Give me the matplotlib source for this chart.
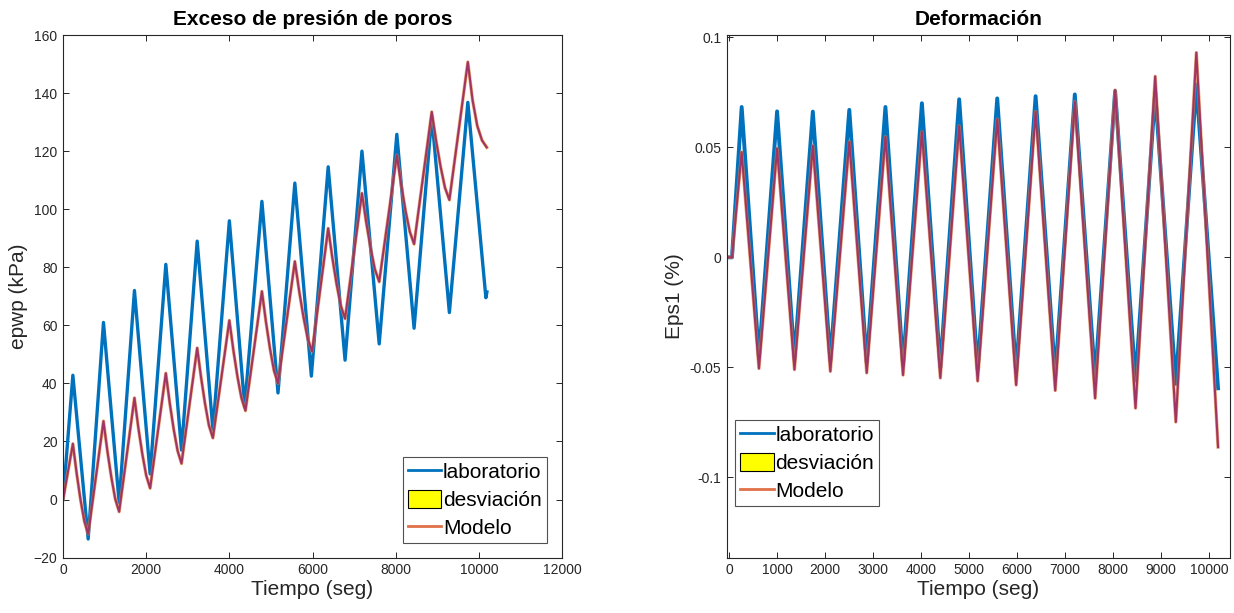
"""Exceso de presión de poros / Deformación: laboratorio vs modelo."""

import matplotlib

matplotlib.use("Agg")
import matplotlib.pyplot as plt
import numpy as np
from matplotlib.patches import Patch
from matplotlib.lines import Line2D

plt.rcParams["font.family"] = ["Liberation Sans", "DejaVu Sans"]

# --- exceso de presion de poros (kPa) ---
t_lab_u = [0, 236, 604, 972, 1349, 1717, 2094, 2472, 2849, 3226, 3604, 4000, 4368,
           4783, 5170, 5575, 5972, 6377, 6783, 7189, 7604, 8028, 8443, 8868, 9292,
           9736, 10170, 10195]
u_lab = [0, 42.8, -13.6, 61, -1, 72, 8.8, 81, 17, 89, 24, 96, 32,
         102.7, 36.7, 109, 42.5, 114.6, 48, 120, 53.6, 125.8, 59, 132, 64.4,
         136.8, 69.5, 71.5]

t_mod_u = [0, 236, 328, 420, 512, 604,
           972, 1066, 1161, 1255, 1349,
           1717, 1811, 1906, 2000, 2094,
           2472, 2566, 2661, 2755, 2849,
           3226, 3320, 3415, 3509, 3604,
           4000, 4097, 4194, 4290, 4387,
           4783, 4880, 4977, 5073, 5170,
           5575, 5679, 5783, 5886, 5990,
           6377, 6479, 6580, 6682, 6783,
           7189, 7293, 7397, 7500, 7604,
           8028, 8132, 8236, 8339, 8443,
           8868, 8974, 9080, 9186, 9292,
           9736, 9850, 9963, 10077, 10190]
u_mod = [0, 19.2, 8.9, -0.1, -7.5, -11.9,
         27, 16.7, 7.7, 0.2, -4.2,
         35, 24.7, 15.7, 8.3, 3.9,
         43.5, 33.2, 24.2, 16.8, 12.4,
         52.2, 42.0, 33.0, 25.5, 21.2,
         61.7, 51.4, 42.4, 35.0, 30.6,
         71.7, 61.2, 52.0, 44.4, 40,
         82, 71.8, 62.8, 55.3, 51,
         93.4, 83.1, 74.1, 66.7, 62.3,
         105.5, 95.4, 86.6, 79.3, 75,
         118.6, 108.5, 99.6, 92.3, 88,
         133.5, 123.5, 114.7, 107.4, 103.2,
         150.7, 137.5, 128.7, 123.7, 121.3]
dev_u = 0.8

# --- deformacion Eps1 (%) ---
t_eps = [0, 60, 262, 622, 1000, 1362, 1745, 2110, 2505, 2868, 3258, 3625, 4018,
         4402, 4795, 5180, 5588, 5982, 6388, 6797, 7205, 7628, 8045, 8470, 8880,
         9310, 9738, 10190]
eps_lab = [0, 0, 0.0683, -0.0455, 0.0663, -0.0460, 0.0662, -0.0468, 0.0670, -0.0478,
           0.0683, -0.0490, 0.0700, -0.0500, 0.0718, -0.0510, 0.0722, -0.0520,
           0.0732, -0.0535, 0.0740, -0.0550, 0.0755, -0.0560, 0.0748, -0.0575,
           0.0785, -0.0595]
eps_mod = [0, 0, 0.0478, -0.0505, 0.0495, -0.0510, 0.0507, -0.0518, 0.0525, -0.0525,
           0.0548, -0.0535, 0.0570, -0.0548, 0.0597, -0.0562, 0.0628, -0.0580,
           0.0662, -0.0605, 0.0708, -0.0640, 0.0760, -0.0685, 0.0822, -0.0748,
           0.0930, -0.0862]
dev_eps = 0.0005

BLUE = "#0072BD"
ORANGE = "#E08040"
PURPLE = "#A03462"
GRAY = "#262626"

fig = plt.figure(figsize=(12.34, 6.13), dpi=100)
ax1 = fig.add_axes([0.0511, 0.0904, 0.4043, 0.8525])
ax2 = fig.add_axes([0.5889, 0.0904, 0.4075, 0.8525])


def draw(ax, t_lab, y_lab, t_mod, y_mod, dev, lw_lab):
    ym = np.array(y_mod)
    ax.fill_between(t_mod, ym - dev, ym + dev, color="yellow", lw=0, alpha=0.7)
    ax.plot(t_lab, y_lab, color=BLUE, lw=lw_lab, solid_joinstyle="round")
    ax.plot(t_mod, y_mod, color=ORANGE, lw=2.4, alpha=0.7, solid_joinstyle="round")
    ax.plot(t_mod, y_mod, color=PURPLE, lw=1.5, solid_joinstyle="round")


draw(ax1, t_lab_u, u_lab, t_mod_u, u_mod, dev_u, 2.4)
draw(ax2, t_eps, eps_lab, t_eps, eps_mod, dev_eps, 2.8)

ax1.set_xlim(0, 12000)
ax1.set_ylim(-20, 160)
ax1.set_xticks(range(0, 12001, 2000))
ax1.set_yticks(range(-20, 161, 20))
ax1.set_title("Exceso de presión de poros", fontsize=15, fontweight="bold", pad=7)
ax1.set_xlabel("Tiempo (seg)", fontsize=15, color=GRAY, labelpad=2)
ax1.set_ylabel("epwp (kPa)", fontsize=15, color=GRAY, labelpad=4)

ax2.set_xlim(-50, 10430)
ax2.set_ylim(-0.1364, 0.101)
ax2.set_xticks(range(0, 10001, 1000))
ax2.set_yticks([-0.1, -0.05, 0, 0.05, 0.1])
ax2.set_yticklabels(["-0.1", "-0.05", "0", "0.05", "0.1"])
ax2.set_title("Deformación", fontsize=15, fontweight="bold", pad=7)
ax2.set_xlabel("Tiempo (seg)", fontsize=15, color=GRAY, labelpad=2)
ax2.set_ylabel("Eps1 (%)", fontsize=15, color=GRAY, labelpad=4)

handles = [Line2D([], [], color=BLUE, lw=2),
           Patch(facecolor="yellow", edgecolor="black", lw=0.8),
           Line2D([], [], color="#E07048", lw=2)]
labels = ["laboratorio", "desviación", "Modelo"]

for ax in (ax1, ax2):
    ax.tick_params(direction="in", length=4, width=0.7, top=True, right=True,
                   labelsize=10, colors=GRAY, pad=4)
    for s in ax.spines.values():
        s.set_color(GRAY)
        s.set_linewidth(0.8)

leg_kw = dict(fontsize=15, frameon=True, fancybox=False, handlelength=1.6,
              handleheight=1.0, handletextpad=0.08, borderpad=0.25,
              labelspacing=0.35, borderaxespad=0)
leg1 = ax1.legend(handles, labels, loc="lower right",
                  bbox_to_anchor=(0.97, 0.028), **leg_kw)
leg2 = ax2.legend(handles, labels, loc="lower left",
                  bbox_to_anchor=(0.0165, 0.0987), **leg_kw)
for leg in (leg1, leg2):
    leg.get_frame().set_edgecolor(GRAY)
    leg.get_frame().set_linewidth(0.8)

fig.savefig("out.png", dpi=100)
plt.close(fig)
